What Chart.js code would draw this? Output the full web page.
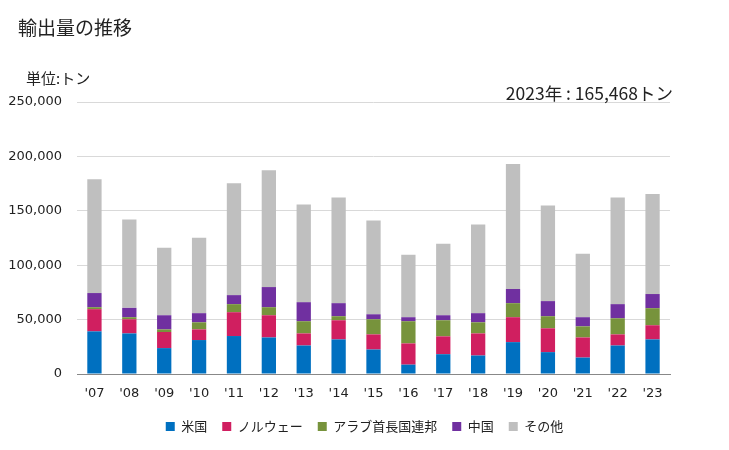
<!DOCTYPE html>
<html>
<head>
<meta charset="utf-8">
<script src="https://cdn.jsdelivr.net/npm/chart.js@4"></script>
<style>
  body { margin:0; background:#fff; }
  #wrap { position:relative; width:729px; height:450px; font-family:"Noto Sans CJK JP", sans-serif; color:#222; }
  #title { position:absolute; left:18px; top:13px; font-size:19px; }
  #unit { position:absolute; left:26px; top:67px; font-size:15px; }
  #note { position:absolute; right:56px; top:80px; font-size:17.5px; }
  canvas { position:absolute; left:0; top:0; }
</style>
</head>
<body>
<div id="wrap">
  <canvas id="chart" width="729" height="450"></canvas>
  <div id="title">輸出量の推移</div>
  <div id="unit">単位:トン</div>
  <div id="note">2023年 : 165,468トン</div>
</div>
<script>
const years = ["'07","'08","'09","'10","'11","'12","'13","'14","'15","'16","'17","'18","'19","'20","'21","'22","'23"];
const usa    = [39200,37300,23800,31200,34900,33600,26200,31800,22500, 8600,18200,17000,29300,20100,15100,26200,31800];
const norway = [20400,13000,14800, 9800,21900,20400,11100,17600,13900,19500,16400,20300,22900,21900,18500,10200,13000];
const uae    = [ 1800, 1900, 2400, 6500, 7400, 7400,11200, 3700,13900,20400,14800,10200,12900,11100,10200,14800,15700];
const china  = [13000, 8600,13000, 8400, 8300,18500,17500,12000, 4600, 3700, 4600, 8400,13000,13900, 8400,13000,13000];
const others = [104600,81200,62000,69400,102800,107400,89900,97200,86100,57400,65800,81400,114800,87900,58300,98100,91968];

const seriesNames = ["米国","ノルウェー","アラブ首長国連邦","中国","その他"];
const seriesColors = ["#0070c0","#d01f60","#77933c","#7030a0","#bfbfbf"];
const seriesData = [usa, norway, uae, china, others];

const tickFont = { family:"'DejaVu Sans', Verdana, sans-serif", size:13 };

new Chart(document.getElementById("chart"), {
  type: "bar",
  data: {
    labels: years,
    datasets: seriesNames.map((n, i) => ({
      label: n,
      data: seriesData[i],
      backgroundColor: seriesColors[i],
      categoryPercentage: 0.41,
      barPercentage: 1
    }))
  },
  options: {
    responsive: false,
    animation: false,
    layout: { padding: { top: 102, right: 0, bottom: 7, left: 0 } },
    plugins: {
      legend: {
        position: "bottom",
        labels: {
          boxWidth: 9, boxHeight: 9, padding: 15, color: "#222",
          font: { family:"'Noto Sans CJK JP', sans-serif", size:13 }
        }
      },
      tooltip: { enabled: false }
    },
    scales: {
      x: {
        stacked: true,
        afterFit: s => { s.height = 31; },
        grid: { display: false, drawTicks: false },
        border: { color: "#888" },
        ticks: { color:"#222", font: tickFont, padding: 12, maxRotation: 0 }
      },
      y: {
        stacked: true,
        min: 0, max: 250000,
        afterFit: s => { s.width = 77; },
        grid: { color: "#d9d9d9", drawTicks: false },
        border: { display: false },
        ticks: {
          stepSize: 50000, color:"#222", font: tickFont, padding: 15,
          callback: v => v.toLocaleString("en-US")
        }
      },
      // empty right-hand axis, only reserves the right margin
      yRight: {
        type: "linear",
        position: "right",
        afterFit: s => { s.width = 59; },
        grid: { display: false, drawTicks: false },
        border: { display: false },
        ticks: { display: false }
      }
    }
  }
});
</script>
</body>
</html>
